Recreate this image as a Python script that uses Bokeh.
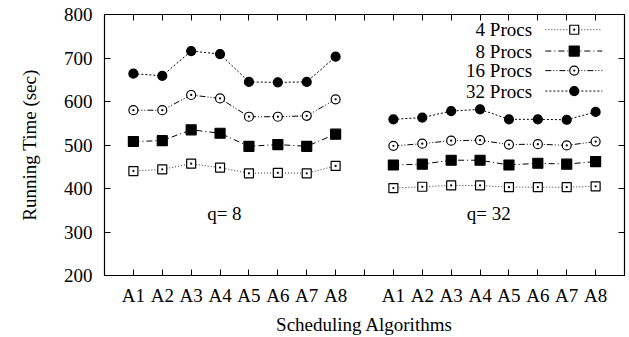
from bokeh.plotting import figure
from bokeh.models import FixedTicker, LinearAxis, Range1d
from bokeh.core.properties import value
from bokeh.embed import file_html
from bokeh.resources import INLINE

# ---- data ----
algos = ["A1", "A2", "A3", "A4", "A5", "A6", "A7", "A8"]
x_q8 = [1, 2, 3, 4, 5, 6, 7, 8]
x_q32 = [10, 11, 12, 13, 14, 15, 16, 17]
series_names = ["4 Procs", "8 Procs", "16 Procs", "32 Procs"]
q8_4 = [440, 444, 457, 448, 435, 436, 435, 452]
q8_8 = [508, 510, 535, 527, 497, 501, 497, 525]
q8_16 = [580, 580, 615, 607, 565, 565, 567, 605]
q8_32 = [664, 659, 716, 709, 645, 644, 645, 703]
q32_4 = [401, 404, 407, 407, 403, 403, 403, 405]
q32_8 = [454, 456, 465, 465, 454, 458, 456, 462]
q32_16 = [498, 503, 510, 511, 501, 502, 499, 508]
q32_32 = [559, 563, 578, 582, 559, 559, 558, 576]
y_ticks = [200, 300, 400, 500, 600, 700, 800]

FONT = "Liberation Serif"
FS = "19px"

p = figure(width=629, height=337, output_backend="svg", toolbar_location=None,
           x_range=Range1d(0, 18), y_range=Range1d(200, 800),
           min_border_left=104, min_border_right=5, min_border_top=14, min_border_bottom=60,
           x_axis_location=None, y_axis_location=None)
p.grid.visible = False
p.outline_line_color = "black"
p.outline_line_width = 1.2
p.background_fill_color = "white"
p.border_fill_color = "white"

all_x = x_q8 + [9] + x_q32
overrides = {x: a for x, a in zip(x_q8, algos)}
overrides.update({x: a for x, a in zip(x_q32, algos)})
overrides[9] = ""

def style_axis(ax):
    ax.axis_line_color = None
    ax.major_tick_in = 6
    ax.major_tick_out = 0
    ax.minor_tick_line_color = None
    ax.major_tick_line_color = "black"
    ax.major_label_text_font = FONT
    ax.major_label_text_font_size = FS
    ax.major_label_text_color = "black"
    ax.axis_label_text_font = FONT
    ax.axis_label_text_font_size = FS
    ax.axis_label_text_font_style = "normal"
    ax.axis_label_text_color = "black"

bottom = LinearAxis(ticker=FixedTicker(ticks=all_x), major_label_overrides=overrides,
                    axis_label="Scheduling Algorithms")
style_axis(bottom)
bottom.major_label_standoff = 9
bottom.axis_label_standoff = 5
p.add_layout(bottom, "below")

top = LinearAxis(ticker=FixedTicker(ticks=all_x),
                 major_label_overrides={x: "" for x in all_x})
style_axis(top)
p.add_layout(top, "above")

left = LinearAxis(ticker=FixedTicker(ticks=y_ticks), axis_label="Running Time (sec)")
style_axis(left)
left.major_label_standoff = 12
left.axis_label_standoff = 21
p.add_layout(left, "left")

right = LinearAxis(ticker=FixedTicker(ticks=y_ticks),
                   major_label_overrides={t: "" for t in y_ticks})
style_axis(right)
p.add_layout(right, "right")

styles = [
    dict(dash="1 2", marker="square_dot", fill="white", size=9, lc="#333333"),
    dict(dash="6 3 1 3", marker="square", fill="black", size=10, lc="black"),
    dict(dash="6 2 1 2 1 2", marker="circle_dot", fill="white", size=9, lc="black"),
    dict(dash="2 2", marker="circle", fill="black", size=9, lc="black"),
]
q8_all = [q8_4, q8_8, q8_16, q8_32]
q32_all = [q32_4, q32_8, q32_16, q32_32]

for st, y8, y32 in zip(styles, q8_all, q32_all):
    for xs, ys in ((x_q8, y8), (x_q32, y32)):
        p.line(xs, ys, line_color=st["lc"], line_width=1, line_dash=st["dash"])
        p.scatter(xs, ys, marker=st["marker"], size=st["size"], fill_color=st["fill"],
                  line_color="black", line_width=1.2)

# group labels
p.text(x=[4.15, 13.3], y=[343, 343], text=["q= 8", "q= 32"], text_font=value(FONT),
       text_font_size=FS, text_align="center", text_baseline="middle", text_color="black")

# legend (gnuplot style: text left, sample right)
leg_y = [765, 716, 671, 624]
leg_text_x = 14.8
leg_x0, leg_x1, leg_xm = 15.26, 17.23, 16.26
p.text(x=[leg_text_x] * 4, y=leg_y, text=series_names, text_font=value(FONT),
       text_font_size=FS, text_align="right", text_baseline="middle", text_color="black")
for st, yy in zip(styles, leg_y):
    p.line([leg_x0, leg_x1], [yy, yy], line_color=st["lc"], line_width=1, line_dash=st["dash"])
    p.scatter([leg_xm], [yy], marker=st["marker"], size=st["size"], fill_color=st["fill"],
              line_color="black", line_width=1.2)

open("out.html", "w").write(file_html(p, INLINE))
